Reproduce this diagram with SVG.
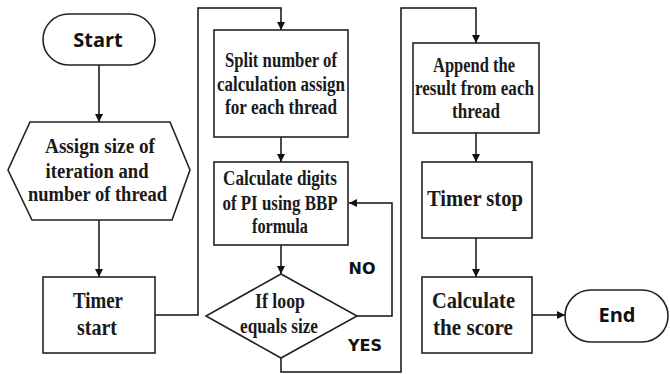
<svg xmlns="http://www.w3.org/2000/svg" width="670" height="374" viewBox="0 0 670 374">
<defs>
<marker id="ah" markerUnits="userSpaceOnUse" markerWidth="8" markerHeight="8" refX="8" refY="4" orient="auto">
<path d="M0,0 L8,4 L0,8 z" fill="#111"/>
</marker>
<style>
.shape{fill:#fff;stroke:#222;stroke-width:1.6}
.conn{fill:none;stroke:#111;stroke-width:1.5;marker-end:url(#ah)}
.line{fill:none;stroke:#111;stroke-width:1.5}
.t{font-family:"Liberation Serif","Times New Roman",serif;font-weight:bold;fill:#1a1a1a;text-anchor:middle}
.s{font-family:"Open Sans","Noto Sans",sans-serif;font-weight:bold;fill:#111;text-anchor:middle}
.lab{font-family:"DejaVu Sans",Verdana,sans-serif;font-weight:bold;fill:#111;font-size:16px;text-anchor:middle}
</style>
</defs>
<rect width="670" height="374" fill="#fff"/>
<g id="connectors">
<path class="conn" d="M99,65 V122"/>
<path class="conn" d="M99,220 V277"/>
<path class="conn" d="M155,315 H198 V8 H281 V30"/>
<path class="conn" d="M281,137 V162"/>
<path class="conn" d="M281,245 V274"/>
<path class="conn" d="M357,316 H392 V203 H349"/>
<path class="conn" d="M281,358 V372 H401 V8 H476 V43"/>
<path class="conn" d="M476,133 V162"/>
<path class="conn" d="M476,238 V277"/>
<path class="conn" d="M532,315 H565"/>
<text class="lab" x="362" y="274">NO</text>
<text class="lab" x="365" y="351">YES</text>
</g>
<g id="start">
<rect class="shape" x="43" y="14" width="112" height="51" rx="25.5"/>
<text class="s" x="98" y="47" font-size="20">Start</text>
</g>
<g id="assign">
<polygon class="shape" points="30,122 170,122 190,170 172,220 32,220 8,170"/>
<text class="t" font-size="20"><tspan x="100" y="153" textLength="110" lengthAdjust="spacingAndGlyphs">Assign size of</tspan><tspan x="97" y="178" textLength="103" lengthAdjust="spacingAndGlyphs">iteration and</tspan><tspan x="97.5" y="201" textLength="139" lengthAdjust="spacingAndGlyphs">number of thread</tspan></text>
</g>
<g id="timer-start">
<rect class="shape" x="43" y="277" width="112" height="76"/>
<text class="t" font-size="24"><tspan x="98" y="308" textLength="50" lengthAdjust="spacingAndGlyphs">Timer</tspan><tspan x="97" y="335" textLength="40" lengthAdjust="spacingAndGlyphs">start</tspan></text>
</g>
<g id="split">
<rect class="shape" x="214" y="30" width="134" height="107"/>
<text class="t" font-size="20"><tspan x="281" y="67" textLength="112" lengthAdjust="spacingAndGlyphs">Split number of</tspan><tspan x="281" y="91" textLength="128" lengthAdjust="spacingAndGlyphs">calculation assign</tspan><tspan x="281" y="114" textLength="112" lengthAdjust="spacingAndGlyphs">for each thread</tspan></text>
</g>
<g id="calc-digits">
<rect class="shape" x="214" y="162" width="134" height="83"/>
<text class="t" font-size="20"><tspan x="280" y="185" textLength="114" lengthAdjust="spacingAndGlyphs">Calculate digits</tspan><tspan x="280" y="210" textLength="115" lengthAdjust="spacingAndGlyphs">of PI using BBP</tspan><tspan x="280" y="233" textLength="56" lengthAdjust="spacingAndGlyphs">formula</tspan></text>
</g>
<g id="if-loop">
<polygon class="shape" points="281,274 357,316 281,358 206,316"/>
<text class="t" font-size="20"><tspan x="280" y="308" textLength="50" lengthAdjust="spacingAndGlyphs">If loop</tspan><tspan x="279" y="333" textLength="78" lengthAdjust="spacingAndGlyphs">equals size</tspan></text>
</g>
<g id="append">
<rect class="shape" x="413" y="43" width="126" height="90"/>
<text class="t" font-size="20"><tspan x="474" y="72" textLength="82" lengthAdjust="spacingAndGlyphs">Append the</tspan><tspan x="474.5" y="95" textLength="119" lengthAdjust="spacingAndGlyphs">result from each</tspan><tspan x="476" y="118" textLength="48" lengthAdjust="spacingAndGlyphs">thread</tspan></text>
</g>
<g id="timer-stop">
<rect class="shape" x="422" y="162" width="110" height="76"/>
<text class="t" font-size="24"><tspan x="475" y="206" textLength="96" lengthAdjust="spacingAndGlyphs">Timer stop</tspan></text>
</g>
<g id="calc-score">
<rect class="shape" x="422" y="277" width="110" height="76"/>
<text class="t" font-size="24"><tspan x="473.5" y="308" textLength="83" lengthAdjust="spacingAndGlyphs">Calculate</tspan><tspan x="473" y="335" textLength="80" lengthAdjust="spacingAndGlyphs">the score</tspan></text>
</g>
<g id="end">
<rect class="shape" x="565" y="290" width="103" height="52" rx="26"/>
<text class="s" x="617" y="322" font-size="20">End</text>
</g>
</svg>
